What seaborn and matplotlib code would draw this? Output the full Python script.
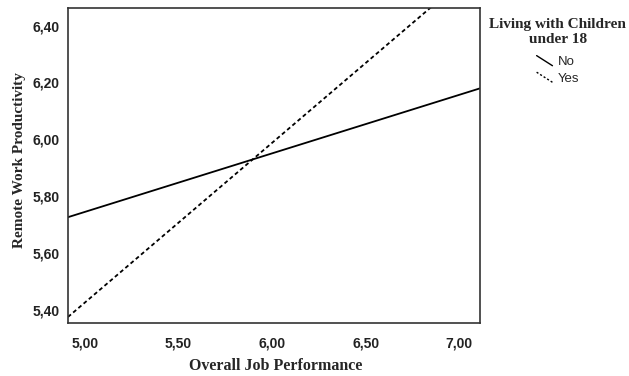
import matplotlib
matplotlib.use("Agg")
import matplotlib.pyplot as plt
from matplotlib.lines import Line2D
from matplotlib.legend_handler import HandlerLine2D
import seaborn as sns
import pandas as pd

# Data (fit-line endpoints)
x_vals = [4.91, 7.11]
no_vals = [5.726, 6.179]
yes_vals = [5.375, 6.611]
groups = ["No", "Yes"]
x_ticks = [5.0, 5.5, 6.0, 6.5, 7.0]
y_ticks = [5.4, 5.6, 5.8, 6.0, 6.2, 6.4]

df = pd.DataFrame({
    "x": x_vals + x_vals,
    "y": no_vals + yes_vals,
    "group": [groups[0]] * len(x_vals) + [groups[1]] * len(x_vals),
})

sns.set_style("white")
fig = plt.figure(figsize=(6.29, 3.76), dpi=100)
ax = fig.add_axes([0.108, 0.141, 0.655, 0.838])

sns.lineplot(data=df, x="x", y="y", style="group", color="black",
             dashes={"No": "", "Yes": (2.2, 1.6)}, linewidth=1.3,
             legend=False, ax=ax, sort=False)

ax.set_xlim(4.91, 7.11)
ax.set_ylim(5.354, 6.462)
ax.set_xticks(x_ticks)
ax.set_yticks(y_ticks)
ax.set_xticklabels([f"{v:.2f}".replace(".", ",") for v in x_ticks],
                   fontfamily="Liberation Sans", fontweight="bold", fontsize=10)
ax.set_yticklabels([f"{v:.2f}".replace(".", ",") for v in y_ticks],
                   fontfamily="Liberation Sans", fontweight="bold", fontsize=10)
ax.tick_params(axis="x", length=0, pad=10, colors="#222222")
ax.tick_params(axis="y", length=0, pad=6, colors="#222222")
for s in ax.spines.values():
    s.set_color("#333333")
    s.set_linewidth(1.2)

ax.set_xlabel("Overall Job Performance", fontfamily="Liberation Serif",
              fontweight="bold", fontsize=11.5)
ax.set_ylabel("Remote Work Productivity", fontfamily="Liberation Serif",
              fontweight="bold", fontsize=11)
ax.xaxis.set_label_coords(0.505, -0.112)
ax.yaxis.set_label_coords(-0.102, 0.516)


class DiagHandler(HandlerLine2D):
    def create_artists(self, legend, orig_handle, xdescent, ydescent,
                       width, height, fontsize, trans):
        line = Line2D([-xdescent, -xdescent + width],
                      [-ydescent + height, -ydescent])
        self.update_prop(line, orig_handle, legend)
        line.set_transform(trans)
        return [line]


handles = [Line2D([], [], color="black", lw=1.0, ls="-"),
           Line2D([], [], color="black", lw=1.0, ls=(0, (1.5, 1.5)))]
leg = fig.legend(handles, groups, loc="upper center",
                 bbox_to_anchor=(0.887, 0.984), frameon=False,
                 title="Living with Children\nunder 18",
                 title_fontproperties={"family": "Liberation Serif",
                                       "weight": "bold", "size": 11},
                 prop={"family": "Liberation Sans", "size": 9.5},
                 handlelength=1.2, handleheight=0.8, handletextpad=0.4,
                 labelspacing=0.3,
                 handler_map={Line2D: DiagHandler()})
leg.get_title().set_multialignment("center")
leg._legend_box.align = "center"
leg._legend_box.sep = 7

fig.savefig("out.png", dpi=100)
